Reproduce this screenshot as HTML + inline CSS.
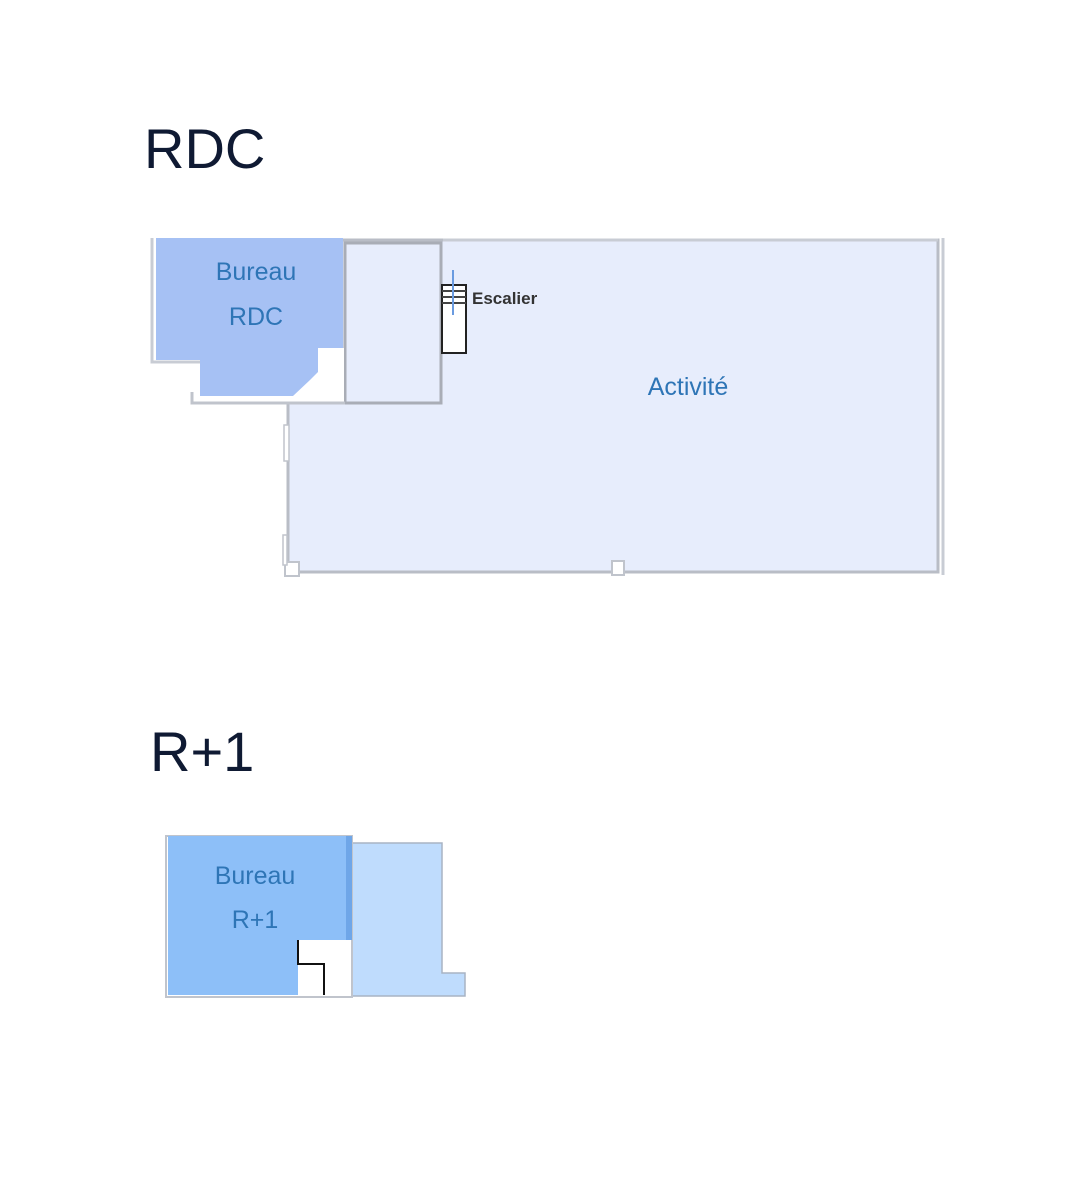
<!DOCTYPE html>
<html><head><meta charset="utf-8"><style>
html,body{margin:0;padding:0;background:#fff;width:1088px;height:1200px;overflow:hidden}
svg{display:block}
</style></head><body>
<svg width="1088" height="1200" xmlns="http://www.w3.org/2000/svg" font-family="Liberation Sans, sans-serif">
<text x="144" y="168" font-size="56" fill="#0f1a33">RDC</text>
<text x="150" y="771" font-size="56" fill="#0f1a33">R+1</text>

<!-- Activité big room -->
<rect x="288" y="240" width="650" height="332" fill="#e7edfc" stroke="#b9bdc6" stroke-width="3"/>
<line x1="443" y1="240" x2="938" y2="240" stroke="#c8ccd4" stroke-width="3"/>
<line x1="943" y1="238" x2="943" y2="575" stroke="#c8ccd4" stroke-width="3"/>
<rect x="285" y="562" width="14" height="14" fill="#fff" stroke="#c0c4cc" stroke-width="2"/>
<rect x="612" y="561" width="12" height="14" fill="#fff" stroke="#c0c4cc" stroke-width="2"/>
<rect x="284" y="425" width="5" height="36" fill="#fff" stroke="#c0c4cc" stroke-width="1.5"/>
<rect x="283" y="535" width="4" height="30" fill="#fff" stroke="#c0c4cc" stroke-width="1.5"/>

<!-- stair room -->
<rect x="345" y="243" width="96" height="160" fill="#e7edfc" stroke="#a9adb6" stroke-width="3"/>
<!-- white area below bureau -->
<rect x="192" y="348" width="152" height="55" fill="#fff"/>
<path d="M192 392 L192 403 L345 403" fill="none" stroke="#c0c4cc" stroke-width="3"/>
<path d="M152 238 L152 362 L200 362" fill="none" stroke="#c8ccd4" stroke-width="3"/>

<!-- Bureau RDC -->
<polygon points="156,238 343,238 343,348 318,348 318,372 310,380 293,396 200,396 200,360 156,360" fill="#a6c1f4"/>
<text x="256" y="280" font-size="25" fill="#2e75b6" text-anchor="middle">Bureau</text>
<text x="256" y="325" font-size="25" fill="#2e75b6" text-anchor="middle">RDC</text>

<!-- stair symbol -->
<rect x="442" y="285" width="24" height="68" fill="#fff" stroke="#222" stroke-width="2"/>
<line x1="442" y1="291" x2="466" y2="291" stroke="#444" stroke-width="2"/>
<line x1="442" y1="297" x2="466" y2="297" stroke="#444" stroke-width="2"/>
<line x1="442" y1="303" x2="466" y2="303" stroke="#444" stroke-width="2"/>
<line x1="453" y1="270" x2="453" y2="315" stroke="#6a9be0" stroke-width="2"/>
<text x="472" y="304" font-size="17" font-weight="bold" fill="#333">Escalier</text>
<text x="688" y="395" font-size="25" fill="#2e75b6" text-anchor="middle">Activité</text>

<!-- R+1 -->
<polygon points="352,843 442,843 442,973 465,973 465,996 352,996" fill="#bfdcfd" stroke="#a8b4c4" stroke-width="1.5"/>
<rect x="166" y="836" width="186" height="161" fill="#fff" stroke="#c0c4cc" stroke-width="2"/>
<polygon points="168,836 352,836 352,940 298,940 298,995 168,995" fill="#8dbff8"/>
<rect x="346" y="836" width="6" height="104" fill="#6fa6e8"/>
<path d="M298 940 L298 964 L324 964 L324 995" fill="none" stroke="#111" stroke-width="2"/>
<text x="255" y="884" font-size="25" fill="#2e75b6" text-anchor="middle">Bureau</text>
<text x="255" y="928" font-size="25" fill="#2e75b6" text-anchor="middle">R+1</text>
</svg>
</body></html>
